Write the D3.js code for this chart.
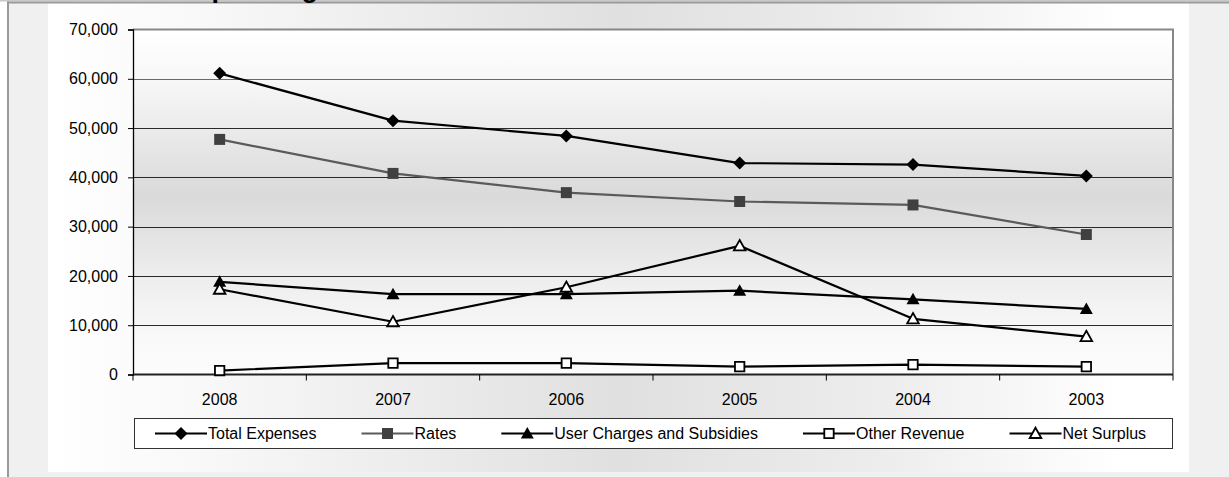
<!DOCTYPE html>
<html>
<head>
<meta charset="utf-8">
<script src="https://cdn.jsdelivr.net/npm/d3@7"></script>
<style>
  html, body { margin: 0; padding: 0; background: #ffffff; }
  svg { display: block; }
  text { font-family: "Liberation Sans", Arial, sans-serif; }
</style>
</head>
<body>
<svg id="chart" width="1229" height="477"></svg>
<script>
// Years shown along the category axis (most recent first)
const years = ["2008", "2007", "2006", "2005", "2004", "2003"];

// Series values in $000
const totalExpenses  = [61100, 51500, 48400, 42900, 42600, 40300];
const rates          = [47700, 40800, 36900, 35100, 34400, 28400];
const userCharges    = [18800, 16300, 16300, 17000, 15250, 13300];
const otherRevenue   = [800, 2300, 2300, 1600, 2000, 1600];
const netSurplus     = [17300, 10700, 17700, 26100, 11300, 7700];

const yTicks = [0, 10000, 20000, 30000, 40000, 50000, 60000, 70000];

const series = [
  { name: "Total Expenses", values: totalExpenses, stroke: "#000000", marker: "diamond", fill: "#000000" },
  { name: "Rates", values: rates, stroke: "#5a5a5a", marker: "square", fill: "#404040" },
  { name: "User Charges and Subsidies", values: userCharges, stroke: "#000000", marker: "triangle", fill: "#000000" },
  { name: "Other Revenue", values: otherRevenue, stroke: "#000000", marker: "openSquare", fill: "#ffffff" },
  { name: "Net Surplus", values: netSurplus, stroke: "#000000", marker: "openTriangle", fill: "#ffffff" }
];

const svg = d3.select("#chart");
const W = 1229, H = 477;
const plot = { left: 133, right: 1173, top: 29.5, bottom: 374.5 };

const defs = svg.append("defs");
const panelGrad = defs.append("linearGradient").attr("id", "panelGrad")
  .attr("x1", "0").attr("x2", "1").attr("y1", "0").attr("y2", "0");
[[0, "#ffffff"], [0.14, "#f8f8f8"], [0.5, "#e0e0e0"], [0.72, "#ececec"], [0.94, "#ffffff"], [1, "#ffffff"]]
  .forEach(([o, c]) => panelGrad.append("stop").attr("offset", o).attr("stop-color", c));

const plotGrad = defs.append("linearGradient").attr("id", "plotGrad")
  .attr("x1", "0").attr("x2", "0").attr("y1", "0").attr("y2", "1");
[[0, "#ffffff"], [0.15, "#f7f7f7"], [0.48, "#dadada"], [0.7, "#ececec"], [0.88, "#f8f8f8"], [1, "#fcfcfc"]]
  .forEach(([o, c]) => plotGrad.append("stop").attr("offset", o).attr("stop-color", c));

// Outer frame
svg.append("rect").attr("x", 9).attr("y", 3).attr("width", W - 9).attr("height", H - 3).attr("fill", "#f0f0f0");
svg.append("rect").attr("x", 48).attr("y", 3).attr("width", 1141).attr("height", 469).attr("fill", "url(#panelGrad)");
svg.append("rect").attr("x", 0).attr("y", 0).attr("width", W).attr("height", 1.5).attr("fill", "#c8c8c8");
svg.append("rect").attr("x", 7).attr("y", 1.5).attr("width", W - 7).attr("height", 2).attr("fill", "#9a9a9a");
svg.append("rect").attr("x", 7).attr("y", 1.5).attr("width", 2).attr("height", H).attr("fill", "#9a9a9a");

// Heading (sits mostly above the frame)
svg.append("text").attr("x", 84).attr("y", -3.5)
  .attr("font-size", 27).attr("font-weight", "bold").attr("fill", "#000")
  .text("Council Operating Results");

// Scales
const x = d3.scaleBand().domain(years).range([plot.left, plot.right]);
const y = d3.scaleLinear().domain([0, 70000]).range([plot.bottom, plot.top]);
const cx = d => x(d) + x.bandwidth() / 2;

// Plot area background
svg.append("rect").attr("x", plot.left).attr("y", plot.top)
  .attr("width", plot.right - plot.left).attr("height", plot.bottom - plot.top)
  .attr("fill", "url(#plotGrad)");

// Gridlines
svg.append("g").selectAll("line").data(yTicks.filter(t => t > 0 && t < 70000)).join("line")
  .attr("x1", plot.left).attr("x2", plot.right)
  .attr("y1", d => Math.round(y(d)) + 0.5).attr("y2", d => Math.round(y(d)) + 0.5)
  .attr("stroke", d => d === 60000 ? "#6a6a6a" : "#2a2a2a").attr("stroke-width", 1.2);

// Plot border top/right
svg.append("path")
  .attr("d", `M${plot.left},${plot.top} H${plot.right} V${plot.bottom}`)
  .attr("fill", "none").attr("stroke", "#888").attr("stroke-width", 2);

// Y axis
const yAxis = svg.append("g").attr("transform", `translate(${plot.left},0)`)
  .call(d3.axisLeft(y).tickValues(yTicks).tickFormat(d3.format(",")).tickSize(5).tickPadding(10));
yAxis.select(".domain").attr("stroke", "#000").attr("stroke-width", 1.3);
yAxis.selectAll(".tick line").attr("stroke", "#000");
yAxis.selectAll("text").attr("font-size", 16).attr("fill", "#000")
  .attr("font-family", "Liberation Sans, Arial, sans-serif");

// X axis with ticks on band boundaries
const xAxis = svg.append("g").attr("transform", `translate(0,${plot.bottom})`);
xAxis.append("line").attr("x1", plot.left).attr("x2", plot.right).attr("y1", 0).attr("y2", 0)
  .attr("stroke", "#222").attr("stroke-width", 2);
const bounds = years.map(d => x(d)).concat([plot.right]);
xAxis.selectAll("line.tick").data(bounds).join("line").attr("class", "tick")
  .attr("x1", d => d).attr("x2", d => d).attr("y1", 0).attr("y2", 6)
  .attr("stroke", "#000").attr("stroke-width", 1);
xAxis.selectAll("text").data(years).join("text")
  .attr("x", d => cx(d)).attr("y", 30.5).attr("text-anchor", "middle")
  .attr("font-size", 16).attr("fill", "#000").text(d => d);

// Marker shapes
function markerPath(kind, px, py) {
  switch (kind) {
    case "diamond": return `M${px},${py - 6.5} L${px + 6.5},${py} L${px},${py + 6.5} L${px - 6.5},${py} Z`;
    case "square": return `M${px - 5.5},${py - 5.5} h11 v11 h-11 Z`;
    case "openSquare": return `M${px - 4.7},${py - 4.7} h9.4 v9.4 h-9.4 Z`;
    case "triangle": return `M${px},${py - 6.5} L${px + 6.5},${py + 5} L${px - 6.5},${py + 5} Z`;
    case "openTriangle": return `M${px},${py - 5.8} L${px + 5.8},${py + 4.5} L${px - 5.8},${py + 4.5} Z`;
  }
}
function drawMarker(g, s, px, py) {
  const open = s.marker.startsWith("open");
  g.append("path").attr("d", markerPath(s.marker, px, py))
    .attr("fill", s.fill)
    .attr("stroke", open ? "#000" : "none")
    .attr("stroke-width", open ? 1.8 : 0)
    .attr("stroke-linejoin", "miter");
}

// Lines + markers
const line = d3.line().x((d, i) => cx(years[i])).y(d => y(d));
series.forEach(s => {
  svg.append("path").datum(s.values).attr("d", line)
    .attr("fill", "none").attr("stroke", s.stroke).attr("stroke-width", 2.2)
    .attr("stroke-linejoin", "round");
});
series.forEach(s => {
  const g = svg.append("g");
  s.values.forEach((v, i) => drawMarker(g, s, cx(years[i]), y(v)));
});

// Legend
const legend = svg.append("g");
legend.append("rect").attr("x", 134.5).attr("y", 418.5).attr("width", 1038).attr("height", 30)
  .attr("fill", "#ffffff").attr("stroke", "#333").attr("stroke-width", 1);
let lx = 155;
const ly = 433.5;
series.forEach(s => {
  const g = legend.append("g");
  g.append("line").attr("x1", lx).attr("x2", lx + 52).attr("y1", ly).attr("y2", ly)
    .attr("stroke", s.stroke).attr("stroke-width", 2);
  drawMarker(g, s, lx + 26, ly);
  const t = g.append("text").attr("x", lx + 53).attr("y", ly + 5.8)
    .attr("font-size", 16).attr("fill", "#000").text(s.name);
  lx = lx + 53 + t.node().getComputedTextLength() + 45;
});
</script>
</body>
</html>
